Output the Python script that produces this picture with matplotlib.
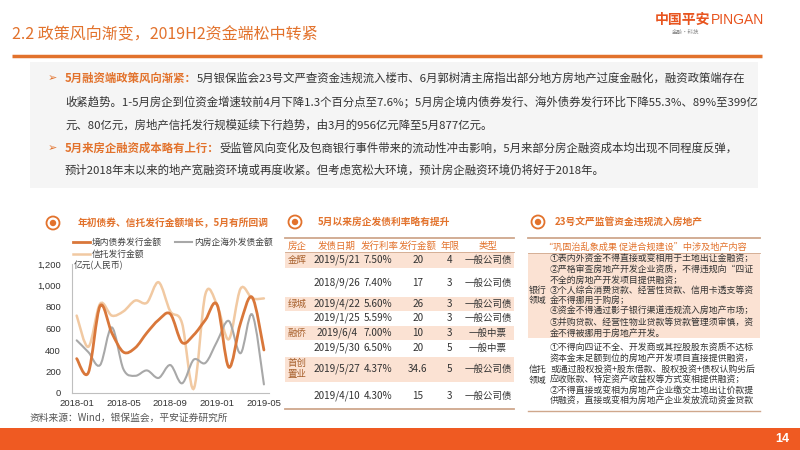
import numpy as np
import matplotlib
matplotlib.use("Agg")
import matplotlib.pyplot as plt
from matplotlib.patches import Rectangle, Circle, PathPatch
from matplotlib.path import Path
from matplotlib.ticker import FuncFormatter

plt.rcParams['font.family'] = ['Noto Sans CJK SC', 'DejaVu Sans']

# ---- data ----
months = ['2018-01', '2018-02', '2018-03', '2018-04', '2018-05', '2018-06', '2018-07',
          '2018-08', '2018-09', '2018-10', '2018-11', '2018-12', '2019-01', '2019-02',
          '2019-03', '2019-04', '2019-05']
domestic = [320, 190, 810, 560, 380, 420, 560, 680, 735, 470, 540, 680, 820, 240, 650, 890, 400]
overseas = [490, 380, 260, 610, 220, 160, 210, 140, 260, 90, 310, 280, 480, 670, 370, 730, 80]
trust = [720, 430, 830, 720, 760, 860, 840, 1030, 760, 650, 40, 920, 820, 500, 970, 880, 880]
series_names = ['境内债券发行金额', '内房企海外发债金额', '信托发行金额']

tbl_header = ['房企', '发债日期', '发行利率', '发行金额', '年限', '类型']
tbl_company = ['金辉', '', '绿城', '', '融侨', '', '首创\n置业', '']
tbl_date = ['2019/5/21', '2018/9/26', '2019/4/22', '2019/1/25', '2019/6/4', '2019/5/30',
            '2019/5/27', '2019/4/10']
tbl_rate = ['7.50%', '7.40%', '5.60%', '5.59%', '7.00%', '6.50%', '4.37%', '4.30%']
tbl_amount = ['20', '17', '26', '20', '10', '20', '34.6', '15']
tbl_years = ['4', '3', '3', '3', '3', '5', '5', '3']
tbl_type = ['一般公司债', '一般公司债', '一般公司债', '一般公司债', '一般中票', '一般中票',
            '一般公司债', '一般公司债']

bank_lines = ['①表内外资金不得直接或变相用于土地出让金融资；',
              '②严格审查房地产开发企业资质，不得违规向“四证',
              '不全的房地产开发项目提供融资；',
              '③个人综合消费贷款、经营性贷款、信用卡透支等资',
              '金不得挪用于购房；',
              '④资金不得通过影子银行渠道违规流入房地产市场；',
              '⑤并购贷款、经营性物业贷款等贷款管理须审慎，资',
              '金不得被挪用于房地产开发。']
trust_lines = ['①不得向四证不全、开发商或其控股股东资质不达标',
               '资本金未足额到位的房地产开发项目直接提供融资，',
               '或通过股权投资+股东借款、股权投资+债权认购劣后',
               '应收账款、特定资产收益权等方式变相提供融资；',
               '②不得直接或变相为房地产企业缴交土地出让价款提',
               '供融资，直接或变相为房地产企业发放流动资金贷款']

ORANGE = '#E2722C'
TAN = '#CFA78C'
PINK = '#FBE2D3'
DARK = '#333333'

fig = plt.figure(figsize=(8, 4.5), dpi=100)
bg = fig.add_axes([0, 0, 1, 1])
bg.set_xlim(0, 800)
bg.set_ylim(450, 0)
bg.axis('off')
renderer = fig.canvas.get_renderer()


def runs(x, y, parts, size):
    for txt, color, weight in parts:
        t = bg.text(x, y, txt, fontsize=size, color=color, fontweight=weight,
                    ha='left', va='center')
        x = t.get_window_extent(renderer).x1
    return x


def icon(x, y):
    bg.add_patch(Circle((x, y), 6.5, fill=False, ec=ORANGE, lw=1.3))
    bg.add_patch(Circle((x, y), 3.2, fc=ORANGE, ec='none'))


# ---- header ----
bg.text(12, 35, '2.2 政策风向渐变，2019H2资金端松中转紧', fontsize=11.5, color=ORANGE,
        ha='left', va='center')
bg.plot([12, 762], [56, 56], color=ORANGE, lw=2.5, solid_capstyle='butt')
bg.text(655, 20, '中国平安', fontsize=10, color='#E8541E', fontweight='bold', ha='left', va='center')
bg.text(711, 20, 'PINGAN', fontsize=10, color='#E8541E', ha='left', va='center',
        family=['Liberation Sans'])
bg.text(672, 32, '金融·科技', fontsize=4, color='#888888', ha='left', va='center')

# ---- bullet text ----
bg.add_patch(Rectangle((30, 62), 728, 126, fc='#F5F5F5', ec='none'))
fs = 8.2
for yy in (78, 148):
    bg.text(48, yy, '➢', fontsize=8, color=ORANGE, ha='left', va='center', family=['DejaVu Sans'])
runs(65, 78, [('5月融资端政策风向渐紧：', ORANGE, 'bold'),
              ('5月银保监会23号文严查资金违规流入楼市、6月郭树清主席指出部分地方房地产过度金融化，融资政策端存在', DARK, 'normal')], fs)
runs(65, 102, [('收紧趋势。1-5月房企到位资金增速较前4月下降1.3个百分点至7.6%；5月房企境内债券发行、海外债券发行环比下降55.3%、89%至399亿', DARK, 'normal')], fs)
runs(65, 125, [('元、80亿元，房地产信托发行规模延续下行趋势，由3月的956亿元降至5月877亿元。', DARK, 'normal')], fs)
runs(65, 148, [('5月来房企融资成本略有上行：', ORANGE, 'bold'),
               ('受监管风向变化及包商银行事件带来的流动性冲击影响，5月来部分房企融资成本均出现不同程度反弹，', DARK, 'normal')], fs)
runs(65, 170, [('预计2018年末以来的地产宽融资环境或再度收紧。但考虑宽松大环境，预计房企融资环境仍将好于2018年。', DARK, 'normal')], fs)

# ---- left chart ----
icon(53, 223)
bg.text(78, 223, '年初债券、信托发行金额增长，5月有所回调', fontsize=7, color=ORANGE,
        fontweight='bold', ha='left', va='center')

colors = ['#D9773A', '#A8A8A8', '#F1C9A2']
widths = [2.0, 1.5, 1.8]
leg_pos = [(73, 242), (175, 242), (73, 254)]
for (lx, ly), c, w, name in zip(leg_pos, colors, widths, series_names):
    bg.plot([lx, lx + 17], [ly, ly], color=c, lw=w)
    bg.text(lx + 19, ly, name, fontsize=6.3, color='#404040', ha='left', va='center')

ax = fig.add_axes([72 / 800, (450 - 393) / 450, 196.6 / 800, 129 / 450])
ax.set_facecolor('none')
x = np.arange(len(months))


def smooth_path(xs, ys):
    pts = np.column_stack([xs, ys]).astype(float)
    n = len(pts)
    verts = [pts[0]]
    codes = [Path.MOVETO]
    for i in range(n - 1):
        p0 = pts[max(i - 1, 0)]
        p1 = pts[i]
        p2 = pts[i + 1]
        p3 = pts[min(i + 2, n - 1)]
        verts += [p1 + (p2 - p0) / 6, p2 - (p3 - p1) / 6, p2]
        codes += [Path.CURVE4] * 3
    return Path(verts, codes)


for ys, c, w in [(trust, colors[2], widths[2]), (overseas, colors[1], widths[1]),
                 (domestic, colors[0], widths[0])]:
    ax.add_patch(PathPatch(smooth_path(x, ys), fill=False, ec=c, lw=w, capstyle='round'))

ax.set_xlim(-0.4, 16.4)
ax.set_ylim(0, 1200)
ax.set_yticks(range(0, 1201, 200))
ax.yaxis.set_major_formatter(FuncFormatter(lambda v, p: f'{int(v):,}'))
ax.set_xticks(x[::4])
ax.set_xticklabels(months[::4])
for s in ('top', 'right'):
    ax.spines[s].set_visible(False)
for s in ('left', 'bottom'):
    ax.spines[s].set_color('#BFBFBF')
    ax.spines[s].set_linewidth(0.8)
ax.tick_params(axis='y', length=0, pad=8, labelsize=6.8, labelcolor='#333333')
ax.tick_params(axis='x', length=0, pad=4, labelsize=6.8, labelcolor='#333333')
for lab in ax.get_xticklabels() + ax.get_yticklabels():
    lab.set_family(['Liberation Sans'])
bg.text(74, 266, '亿元(人民币)', fontsize=6.3, color='#404040', ha='left', va='center')

bg.text(30, 418, '资料来源：Wind，银保监会，平安证券研究所', fontsize=7, color='#555555',
        ha='left', va='center')

# ---- middle table ----
icon(295, 222)
bg.text(318, 222, '5月以来房企发债利率略有提升', fontsize=7, color=ORANGE,
        fontweight='bold', ha='left', va='center')
bg.plot([285, 514], [238, 238], color=TAN, lw=1.3)
bg.plot([285, 514], [252, 252], color=TAN, lw=0.6)
col_x = [297, 337, 380, 418, 450, 488]
for cx, h in zip(col_x, tbl_header):
    bg.text(cx, 246, h, fontsize=6.8, color=ORANGE, ha='center', va='center')
row_y = [260, 283, 304, 318, 333, 348, 369, 396]
shade = [(252, 268), (297, 311), (326, 340), (357, 382)]
for y0, y1 in shade:
    bg.add_patch(Rectangle((285, y0), 229, y1 - y0, fc=PINK, ec='none'))
for i, ry in enumerate(row_y):
    bg.text(col_x[0], ry, tbl_company[i], fontsize=6.8, color='#A8622E', ha='center',
            va='center', linespacing=1.3)
    bg.text(col_x[1], ry, tbl_date[i], fontsize=7.2, color=DARK, ha='center', va='center')
    bg.text(col_x[2] - 2, ry, tbl_rate[i], fontsize=7.2, color=DARK, ha='center', va='center')
    bg.text(col_x[3], ry, tbl_amount[i], fontsize=7.2, color=DARK, ha='center', va='center')
    bg.text(col_x[4], ry, tbl_years[i], fontsize=7.2, color=DARK, ha='center', va='center')
    bg.text(col_x[5], ry, tbl_type[i], fontsize=6.8, color=DARK, ha='center', va='center')
bg.plot([285, 514], [409, 409], color=TAN, lw=1.3)

# ---- right panel ----
icon(538, 222)
bg.text(555, 222, '23号文严监管资金违规流入房地产', fontsize=7, color=ORANGE,
        fontweight='bold', ha='left', va='center')
bg.plot([528, 760], [238, 238], color=TAN, lw=1.3)
bg.text(645, 247, '“巩固治乱象成果 促进合规建设”中涉及地产内容', fontsize=6.6, color=ORANGE,
        ha='center', va='center')
bg.add_patch(Rectangle((528, 253), 232, 85, fc=PINK, ec='none'))
bg.plot([528, 760], [253, 253], color=TAN, lw=0.6)
bank_y = [258, 269, 280, 290, 300, 311, 322, 333]
trust_y = [347, 358, 369, 380, 390, 401]
for t, yy in zip(bank_lines, bank_y):
    bg.text(550, yy, t, fontsize=6.4, color=DARK, ha='left', va='center')
for t, yy in zip(trust_lines, trust_y):
    bg.text(550, yy, t, fontsize=6.4, color=DARK, ha='left', va='center')
bg.text(529, 290, '银行', fontsize=6.4, color=DARK, ha='left', va='center')
bg.text(529, 300, '领域', fontsize=6.4, color=DARK, ha='left', va='center')
bg.text(529, 369, '信托', fontsize=6.4, color=DARK, ha='left', va='center')
bg.text(529, 380, '领域', fontsize=6.4, color=DARK, ha='left', va='center')
bg.plot([528, 760], [411, 411], color=TAN, lw=1.0)

# ---- footer ----
bg.add_patch(Rectangle((0, 428), 800, 22, fc='#EF5A22', ec='none'))
bg.text(782, 439, '14', fontsize=9, color='white', fontweight='bold', ha='center', va='center',
        family=['Liberation Sans'])

fig.savefig('out.png', dpi=100)
